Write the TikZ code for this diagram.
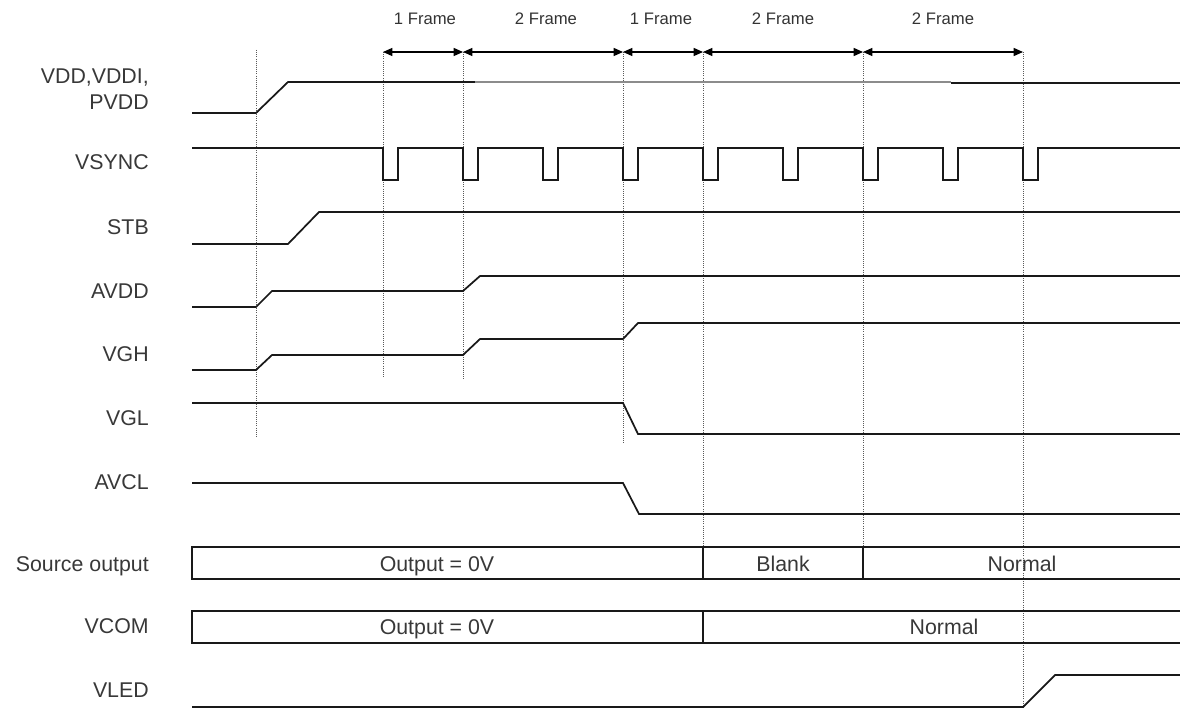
\documentclass[tikz,border=0pt]{standalone}
\usepackage{fontspec}
\setmainfont{Liberation Sans}
\usetikzlibrary{arrows.meta}
\begin{document}
\begin{tikzpicture}[x=0.75pt, y=-0.75pt,
    sigStyle/.style={line width=1.3pt, draw=black!90, line join=miter},
    gridStyle/.style={densely dotted, line width=0.6pt, draw=black!65},
    spanStyle/.style={line width=1pt, {Triangle[length=7pt,width=6pt]}-{Triangle[length=7pt,width=6pt]}},
    labelStyle/.style={anchor=base east, inner sep=0pt, text=black!78, font=\fontsize{16}{18}\selectfont},
    frameStyle/.style={anchor=base, inner sep=0pt, text=black!80, font=\fontsize{12.5}{14}\selectfont},
    boxText/.style={anchor=base, inner sep=0pt, text=black!78, font=\fontsize{16}{18}\selectfont}]
    \useasboundingbox (0,0) rectangle (1180,709);
    \coordinate (t_0) at ( 256, 50); \coordinate (b_0) at ( 256,437);
    \coordinate (t_1) at ( 383, 52); \coordinate (b_1) at ( 383,378);
    \coordinate (t_2) at ( 463, 52); \coordinate (b_2) at ( 463,380);
    \coordinate (t_3) at ( 623, 52); \coordinate (b_3) at ( 623,443);
    \coordinate (t_4) at ( 703, 52); \coordinate (b_4) at ( 703,547);
    \coordinate (t_5) at ( 863, 52); \coordinate (b_5) at ( 863,547);
    \coordinate (t_6) at (1023, 52); \coordinate (b_6) at (1023,707);
    \foreach \i in {0,...,6} \draw[gridStyle] (t_\i) -- (b_\i);
    \draw[spanStyle] (t_1) -- (t_2);
    \draw[spanStyle] (t_2) -- (t_3);
    \draw[spanStyle] (t_3) -- (t_4);
    \draw[spanStyle] (t_4) -- (t_5);
    \draw[spanStyle] (t_5) -- (t_6);
    \node[frameStyle] (fr_0) at (425,25) {1 Frame};
    \node[frameStyle] (fr_1) at (546,25) {2 Frame};
    \node[frameStyle] (fr_2) at (661,25) {1 Frame};
    \node[frameStyle] (fr_3) at (783,25) {2 Frame};
    \node[frameStyle] (fr_4) at (943,25) {2 Frame};
    \node[labelStyle] (lbl_VDD)   at (149, 84) {VDD,VDDI,};
    \node[labelStyle] (lbl_PVDD)  at (149,110) {PVDD};
    \node[labelStyle] (lbl_VSYNC) at (149,170) {VSYNC};
    \node[labelStyle] (lbl_STB)   at (149,234) {STB};
    \node[labelStyle] (lbl_AVDD)  at (149,298) {AVDD};
    \node[labelStyle] (lbl_VGH)   at (149,361) {VGH};
    \node[labelStyle] (lbl_VGL)   at (149,425) {VGL};
    \node[labelStyle] (lbl_AVCL)  at (149,489) {AVCL};
    \node[labelStyle] (lbl_SRC)   at (149,571) {Source output};
    \node[labelStyle] (lbl_VCOM)  at (149,633) {VCOM};
    \node[labelStyle] (lbl_VLED)  at (149,697) {VLED};
    \draw[sigStyle] (192,113) -- (256,113) -- (288,82) -- (475,82);
    \draw[sigStyle, draw=black!45] (475,82) -- (951,82);
    \draw[sigStyle] (951,83) -- (1180,83);
    \draw[sigStyle] (192,148) foreach \p in {383,463,543,623,703,783,863,943,1023} { -- (\p,148) -- (\p,180) -- (\p+15,180) -- (\p+15,148) } -- (1180,148);
    \draw[sigStyle] (192,244) -- (288,244) -- (319,212) -- (1180,212);
    \draw[sigStyle] (192,307) -- (256,307) -- (272,291) -- (463,291) -- (480,276) -- (1180,276);
    \draw[sigStyle] (192,370) -- (256,370) -- (272,355) -- (463,355) -- (480,339) -- (623,339) -- (638,323) -- (1180,323);
    \draw[sigStyle] (192,403) -- (623,403) -- (638,434) -- (1180,434);
    \draw[sigStyle] (192,483) -- (623,483) -- (639,514) -- (1180,514);
    \draw[sigStyle] (1180,547) -- (192,547) -- (192,579) -- (1180,579);
    \draw[sigStyle] (703,547) -- (703,579);
    \draw[sigStyle] (863,547) -- (863,579);
    \node[boxText] (src_0) at ( 437,571) {Output = 0V};
    \node[boxText] (src_1) at ( 783,571) {Blank};
    \node[boxText] (src_2) at (1022,571) {Normal};
    \draw[sigStyle] (1180,611) -- (192,611) -- (192,643) -- (1180,643);
    \draw[sigStyle] (703,611) -- (703,643);
    \node[boxText] (com_0) at ( 437,634) {Output = 0V};
    \node[boxText] (com_1) at ( 944,634) {Normal};
    \draw[sigStyle] (192,707) -- (1023,707) -- (1055,675) -- (1180,675);
\end{tikzpicture}
\end{document}
